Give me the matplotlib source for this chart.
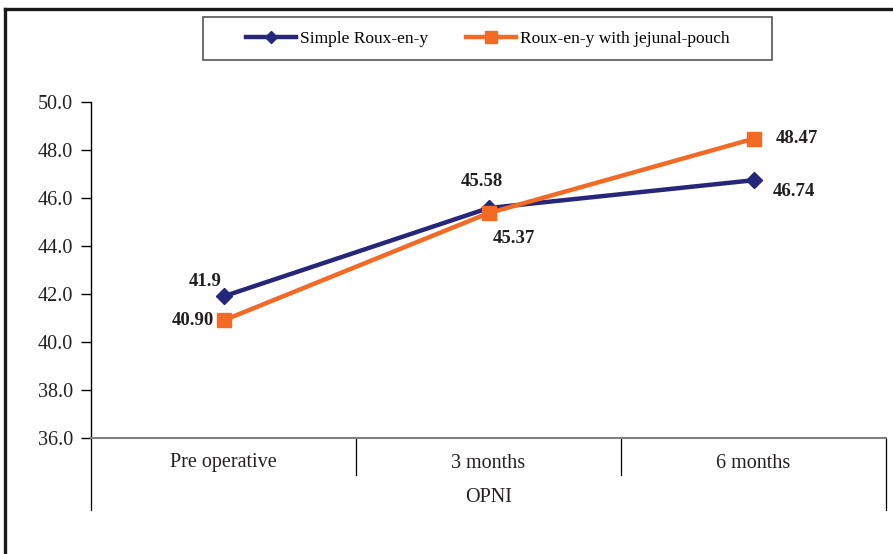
import matplotlib
matplotlib.use("Agg")
import matplotlib.pyplot as plt
from matplotlib.lines import Line2D
from matplotlib.patches import Rectangle
import matplotlib.transforms as mtransforms

plt.rcParams["font.family"] = "Liberation Serif"

categories = ["Pre operative", "3 months", "6 months"]
simple = [41.9, 45.58, 46.74]
pouch = [40.90, 45.37, 48.47]
simple_labels = ["41.9", "45.58", "46.74"]
pouch_labels = ["40.90", "45.37", "48.47"]
group_label = "OPNI"
yticks = [36, 38, 40, 42, 44, 46, 48, 50]

navy = "#26267A"
orange = "#F26A23"
ink = "#231F20"

W, H = 893, 554
fig = plt.figure(figsize=(W / 100, H / 100), dpi=100)
ax = fig.add_axes([91 / W, 1 - 438 / H, (886 - 91) / W, (438 - 102) / H])

x = list(range(len(categories)))
ax.plot(x, simple, color=navy, lw=3.2, marker="D", ms=8, mec=navy, mfc=navy,
        label="Simple Roux-en-y", zorder=3)
ax.plot(x, pouch, color=orange, lw=3.2, marker="s", ms=10, mec=orange, mfc=orange,
        label="Roux-en-y with jejunal-pouch", zorder=4)

ax.set_xlim(-0.5, len(categories) - 0.5)
ax.set_ylim(36, 50)
ax.set_yticks(yticks)
ax.set_yticklabels([f"{v:.1f}" for v in yticks], fontsize=14.5, color=ink)
ax.tick_params(axis="y", direction="out", length=7, width=1, pad=6)
ax.set_xticks([])

for s in ["top", "right"]:
    ax.spines[s].set_visible(False)
ax.spines["left"].set_color("black")
ax.spines["left"].set_linewidth(1)
ax.spines["bottom"].set_color("#808080")
ax.spines["bottom"].set_linewidth(1.5)

# value labels (offsets in pixels)
simple_off = [(-18, 15, "center"), (-7, 27, "center"), (19, -11, "left")]
pouch_off = [(-9, 0, "right"), (25, -25, "center"), (22, 0, "left")]
for xi, v, t, (dx, dy, ha) in zip(x, simple, simple_labels, simple_off):
    ax.annotate(t, (xi, v), xytext=(dx, dy), textcoords="offset pixels",
                ha=ha, va="center", fontsize=13.5, fontweight="bold", color=ink)
for xi, v, t, (dx, dy, ha) in zip(x, pouch, pouch_labels, pouch_off):
    ax.annotate(t, (xi, v), xytext=(dx, dy), textcoords="offset pixels",
                ha=ha, va="center", fontsize=13.5, fontweight="bold", color=ink)

# category table under the axis
trans = mtransforms.blended_transform_factory(ax.transData, ax.transAxes)
inner_bot = -(475 - 438) / (438 - 102)
outer_bot = -(510 - 438) / (438 - 102)
for b in range(len(categories) + 1):
    xb = b - 0.5
    yb = outer_bot if b in (0, len(categories)) else inner_bot
    ax.add_line(Line2D([xb, xb], [0, yb], transform=trans, color="black",
                       lw=0.9, clip_on=False))
for xi, c in zip(x, categories):
    ax.text(xi, -(463 - 438) / (438 - 102), c, transform=trans, ha="center",
            va="center", fontsize=14.5, color=ink)
ax.text(1, -(497 - 438) / (438 - 102), group_label, transform=trans,
        ha="center", va="center", fontsize=14.5, color=ink)

# legend box
fig.patches.append(Rectangle((203 / W, 1 - 60 / H), (772 - 203) / W, 43 / H,
                             transform=fig.transFigure, fill=False,
                             edgecolor="#555555", lw=1.2))
fig.legend(loc="center", bbox_to_anchor=((203 + 772) / 2 / W, 1 - 39 / H),
           ncol=2, frameon=False, fontsize=12.5, handlelength=2.9,
           handletextpad=0.2, columnspacing=2.2, markerscale=0.8)

# outer frame
fig.add_artist(Line2D([5 / W, 5 / W], [0, 1 - 9 / H], transform=fig.transFigure,
                      color="#1a1a1a", lw=2.4))
fig.add_artist(Line2D([5 / W, 1], [1 - 9 / H, 1 - 9 / H], transform=fig.transFigure,
                      color="#1a1a1a", lw=2.4))

fig.savefig("out.png", dpi=100)
